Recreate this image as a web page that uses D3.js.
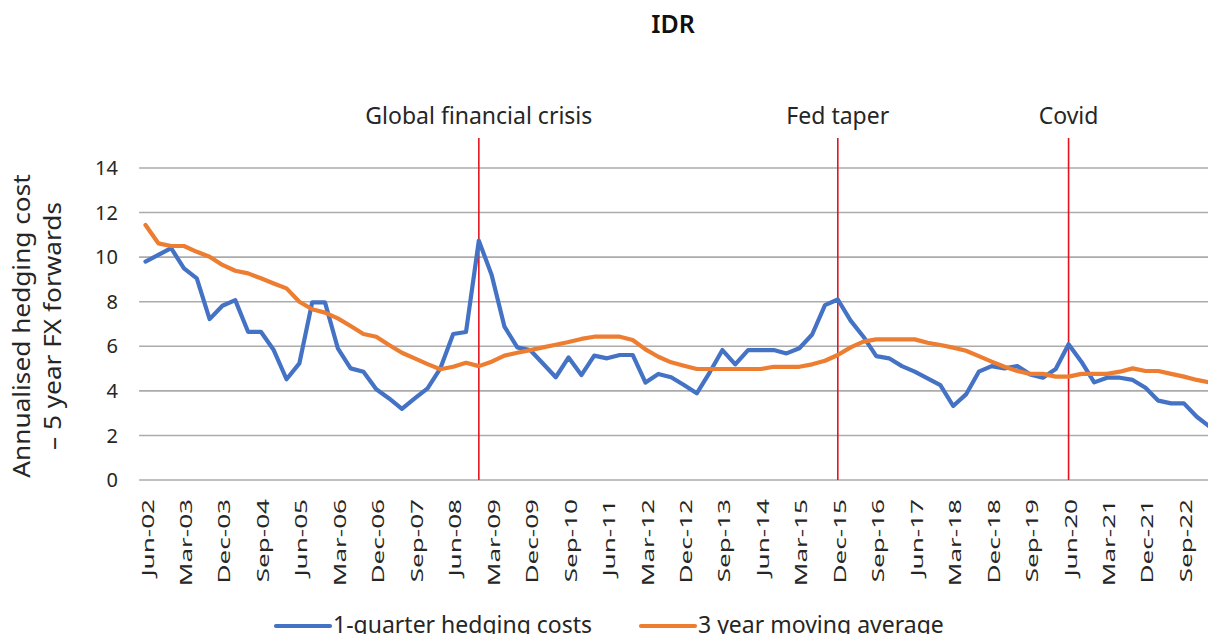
<!DOCTYPE html>
<html>
<head>
<meta charset="utf-8">
<script src="https://cdn.jsdelivr.net/npm/d3@7"></script>
<style>
  body { margin: 0; background: #fff; }
  svg { display: block; font-family: 'Noto Sans', sans-serif; }
</style>
</head>
<body>
<div id="chart"></div>
<script>
// quarterly, Jun-02 .. Mar-23
var startYear = 2002, startMonth = 5
var hedging = [9.8, 10.1, 10.4, 9.5, 9.05, 7.22, 7.82, 8.07, 6.65, 6.65,
  5.83, 4.52, 5.23, 7.97, 7.97, 5.91, 5.01, 4.86, 4.07, 3.66,
  3.19, 3.66, 4.11, 5.01, 6.55, 6.64, 10.74, 9.2, 6.88, 5.95,
  5.83, 5.23, 4.61, 5.5, 4.71, 5.58, 5.46, 5.61, 5.61, 4.37,
  4.76, 4.61, 4.26, 3.89, 4.82, 5.83, 5.19, 5.83, 5.83, 5.83,
  5.68, 5.91, 6.53, 7.85, 8.1, 7.15, 6.43, 5.56, 5.46, 5.11,
  4.86, 4.56, 4.26, 3.32, 3.84, 4.86, 5.11, 5.01, 5.11, 4.74,
  4.59, 4.98, 6.09, 5.31, 4.38, 4.59, 4.59, 4.49, 4.14, 3.56,
  3.44, 3.44, 2.84, 2.4]
var movingAvg = [11.44, 10.62, 10.5, 10.5, 10.24, 10.02, 9.65, 9.39, 9.27, 9.05,
  8.82, 8.6, 8.0, 7.66, 7.51, 7.25, 6.91, 6.55, 6.43, 6.06,
  5.71, 5.46, 5.2, 4.97, 5.08, 5.26, 5.11, 5.31, 5.58, 5.71,
  5.83, 5.95, 6.07, 6.19, 6.33, 6.43, 6.43, 6.43, 6.28, 5.86,
  5.53, 5.28, 5.13, 4.98, 4.98, 4.98, 4.98, 4.98, 4.98, 5.08,
  5.08, 5.08, 5.19, 5.35, 5.61, 5.95, 6.21, 6.31, 6.31, 6.31,
  6.31, 6.16, 6.06, 5.94, 5.8, 5.56, 5.31, 5.08, 4.89, 4.76,
  4.76, 4.64, 4.64, 4.76, 4.76, 4.76, 4.86, 5.01, 4.89, 4.89,
  4.76, 4.64, 4.49, 4.38]
var events = [
  {label: 'Global financial crisis', quarter: 'Dec-08'},
  {label: 'Fed taper', quarter: 'Dec-15'},
  {label: 'Covid', quarter: 'Jun-20'}
]
var yTicks = [0, 2, 4, 6, 8, 10, 12, 14]
var seriesNames = ['1-quarter hedging costs', '3 year moving average']
var seriesColors = ['#4472C4', '#ED7D31']

var monthNames = ['Jan','Feb','Mar','Apr','May','Jun','Jul','Aug','Sep','Oct','Nov','Dec']
var quarters = hedging.map(function(d, i){
  var m = startMonth + i * 3
  var yr = startYear + Math.floor(m / 12)
  return monthNames[m % 12] + '-' + String(yr % 100).padStart(2, '0')
})

var W = 1208, H = 634
var margin = {top: 168, left: 139.1}
var plotRight = 1216, plotBottom = 480

var svg = d3.select('#chart').append('svg')
    .attr('width', W)
    .attr('height', H)

var x = d3.scaleBand()
    .domain(quarters)
    .range([margin.left, plotRight])
    .padding(0)

var cx = function(q){ return x(q) + x.bandwidth() / 2 }

var y = d3.scaleLinear()
    .domain([0, 14])
    .range([plotBottom, margin.top])

// gridlines
svg.append('g').selectAll('line')
    .data(yTicks)
  .enter().append('line')
    .attr('x1', margin.left)
    .attr('x2', plotRight)
    .attr('y1', function(d){ return y(d) })
    .attr('y2', function(d){ return y(d) })
    .attr('stroke', '#ABABAB')
    .attr('stroke-width', 1.6)

// y tick labels
svg.append('g').selectAll('text')
    .data(yTicks)
  .enter().append('text')
    .attr('x', 118)
    .attr('y', function(d){ return y(d) })
    .attr('dy', '0.36em')
    .attr('text-anchor', 'end')
    .attr('font-size', '20px')
    .attr('fill', '#262626')
    .text(function(d){ return d })

// x tick labels, every third quarter (stretched along the text like the original)
svg.append('g').selectAll('text')
    .data(quarters.filter(function(d, i){ return i % 3 === 0 && i < 82 }))
  .enter().append('text')
    .attr('transform', function(d){ return 'translate(' + cx(d) + ',499) rotate(-90) scale(1.63,1)' })
    .attr('dy', '0.5em')
    .attr('text-anchor', 'end')
    .attr('font-size', '16px')
    .attr('fill', '#262626')
    .text(function(d){ return d })

// event markers
var ev = svg.append('g').selectAll('g')
    .data(events)
  .enter().append('g')

ev.append('line')
    .attr('x1', function(d){ return cx(d.quarter) })
    .attr('x2', function(d){ return cx(d.quarter) })
    .attr('y1', 138)
    .attr('y2', plotBottom)
    .attr('stroke', '#E3141E')
    .attr('stroke-width', 1.6)

ev.append('text')
    .attr('x', function(d){ return cx(d.quarter) })
    .attr('y', 124)
    .attr('text-anchor', 'middle')
    .attr('font-size', '23px')
    .attr('fill', '#262626')
    .text(function(d){ return d.label })

// series
var line = d3.line()
    .x(function(d, i){ return cx(quarters[i]) })
    .y(function(d){ return y(d) })

;[hedging, movingAvg].forEach(function(s, k){
  svg.append('path')
      .datum(s)
      .attr('d', line)
      .attr('fill', 'none')
      .attr('stroke', seriesColors[k])
      .attr('stroke-width', 4.2)
      .attr('stroke-linejoin', 'round')
      .attr('stroke-linecap', 'round')
})

// title
svg.append('text')
    .attr('x', 673)
    .attr('y', 33)
    .attr('text-anchor', 'middle')
    .attr('font-size', '25px')
    .attr('font-weight', 600)
    .attr('fill', '#111')
    .text('IDR')

// y axis title
var yTitle = svg.append('text')
    .attr('transform', 'translate(0,326) rotate(-90) scale(1.14,1)')
    .attr('text-anchor', 'middle')
    .attr('font-size', '23px')
    .attr('fill', '#262626')
yTitle.append('tspan').attr('x', 0).attr('y', 30).text('Annualised hedging cost')
yTitle.append('tspan').attr('x', 0).attr('y', 61).text('\u2013 5 year FX forwards')

// legend
var legendX = [276, 641]
var lg = svg.append('g').selectAll('g')
    .data(seriesNames)
  .enter().append('g')
    .attr('transform', function(d, i){ return 'translate(' + legendX[i] + ',626)' })

lg.append('line')
    .attr('x1', 0)
    .attr('x2', 54)
    .attr('stroke', function(d, i){ return seriesColors[i] })
    .attr('stroke-width', 4.2)
    .attr('stroke-linecap', 'round')

lg.append('text')
    .attr('x', 57)
    .attr('y', 7)
    .attr('font-size', '23px')
    .attr('fill', '#262626')
    .text(function(d){ return d })
</script>
</body>
</html>
